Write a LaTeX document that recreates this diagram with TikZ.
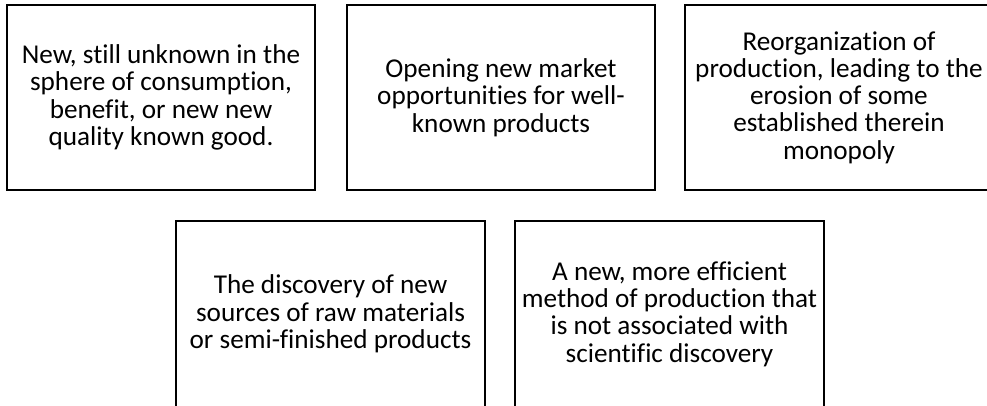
\documentclass[tikz,border=0pt]{standalone}
\usepackage{fontspec}
\setmainfont[Ligatures=NoCommon]{Carlito}
\tikzset{
  box/.style={draw=black, line width=2.2pt, inner sep=0pt, align=center,
    font=\fontsize{27.2}{27.3}\selectfont, text=black},
}
\begin{document}
\begin{tikzpicture}[x=1pt,y=-1pt]
\useasboundingbox (0,0) rectangle (987,405);
\clip (0,0) rectangle (987,405);
\fill[white] (0,0) rectangle (987,405);
\node[box, minimum width=308pt, minimum height=185pt] (b1) at (161,97.5)
  {New, still unknown in the\\sphere of consumption,\\benefit, or new new\\quality known good.};
\node[box, minimum width=308pt, minimum height=185pt] (b2) at (501,97.5)
  {Opening new market\\opportunities for well-\\known products};
\node[box, minimum width=308pt, minimum height=185pt] (b3) at (839,97.5)
  {Reorganization of\\production, leading to the\\erosion of some\\established therein\\monopoly};
\node[box, minimum width=309pt, minimum height=186pt] (b4) at (330.5,314)
  {The discovery of new\\sources of raw materials\\or semi-finished products};
\node[box, minimum width=309pt, minimum height=186pt] (b5) at (669.5,314)
  {A new, more efficient\\method of production that\\is not associated with\\scientific discovery};
\end{tikzpicture}
\end{document}
